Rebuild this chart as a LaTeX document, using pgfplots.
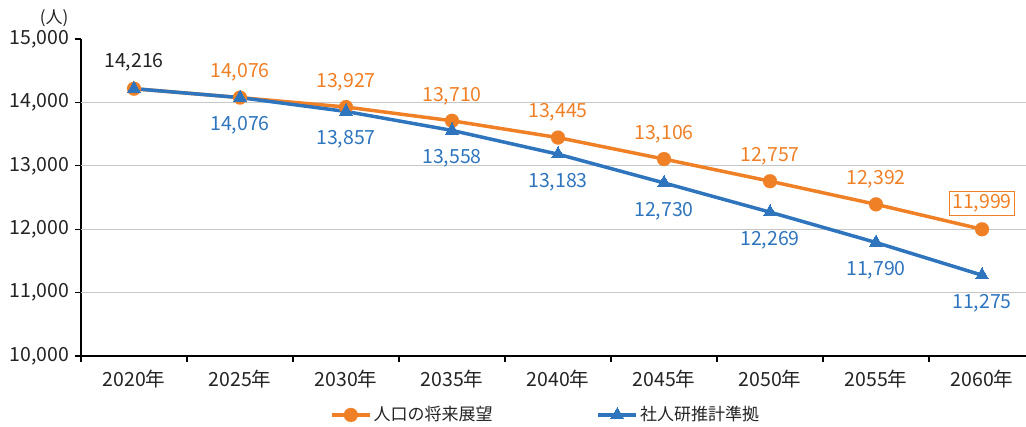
\documentclass[border=0pt]{standalone}
\usepackage{fontspec}
\setmainfont{Noto Sans CJK JP}
\usepackage{pgfplots}
\pgfplotsset{compat=1.18}
\definecolor{orng}{RGB}{240,128,38}
\definecolor{blu}{RGB}{46,117,190}
\definecolor{txt}{RGB}{35,35,35}
\newcommand{\lf}{\fontsize{19.5}{22}\selectfont}
\begin{document}
\lf
\begin{tikzpicture}
\path[use as bounding box] (0,0) rectangle (1026pt,427pt);
\begin{axis}[
  at={(81pt,71pt)}, anchor=south west,
  scale only axis, width=954pt, height=317pt,
  xmin=-0.5, xmax=8.5, ymin=10000, ymax=15000,
  axis x line*=bottom, axis y line*=left,
  axis line style={-, black, line width=1.2pt},
  xtick={-0.5,0.5,...,8.5},
  x tick label as interval,
  xticklabels={2020年,2025年,2030年,2035年,2040年,2045年,2050年,2055年,2060年},
  ytick={10000,11000,...,15000},
  extra y ticks={11000,12000,13000,14000},
  extra y tick labels={},
  extra y tick style={grid=major, major tick length=0pt},
  grid style={line width=0.8pt, black!22},
  tick align=outside, major tick length=6pt,
  tick style={black, line width=1.2pt},
  scaled y ticks=false,
  /pgf/number format/assume math mode=true,
  yticklabel style={/pgf/number format/1000 sep={,}, text=txt, font=\lf, xshift=1pt},
  xticklabel style={text=txt, font=\lf, yshift=-1pt},
  legend style={at={(0.487,-0.186)}, anchor=center, draw=none, fill=none,
    legend columns=2, font=\fontsize{17}{20}\selectfont,
    /tikz/every even column/.append style={column sep=102pt},
    text=txt},
  legend image code/.code={\draw[mark repeat=2,mark phase=2] plot coordinates {(0pt,0pt) (19pt,0pt) (38pt,0pt)};},
]
\addplot[orng, line width=3.5pt, mark=*, mark size=7pt, mark options={solid, fill=orng, draw=orng, line width=0.1pt}]
  coordinates {(0,14216) (1,14076) (2,13927) (3,13710) (4,13445) (5,13106) (6,12757) (7,12392) (8,11999)};
\addlegendentry{人口の将来展望}
\addplot[blu, line width=3.5pt, mark=triangle*, mark size=7.5pt, mark options={solid, fill=blu, line width=0pt}]
  coordinates {(0,14216) (1,14076) (2,13857) (3,13558) (4,13183) (5,12730) (6,12269) (7,11790) (8,11275)};
\addlegendentry{社人研推計準拠}
% labels
\addplot[forget plot, draw=none, mark=none, nodes near coords, point meta=explicit symbolic,
  every node near coord/.style={anchor=center, yshift=25pt, text=orng, font=\lf}]
  coordinates {(1,14076)[14,076] (2,13927)[13,927] (3,13710)[13,710] (4,13445)[13,445] (5,13106)[13,106] (6,12757)[12,757] (7,12392)[12,392]};
\addplot[forget plot, draw=none, mark=none, nodes near coords, point meta=explicit symbolic,
  every node near coord/.style={anchor=center, yshift=26pt, draw=orng, line width=0.8pt, inner sep=3pt, text=orng, font=\lf}]
  coordinates {(8,11999)[11,999]};
\addplot[forget plot, draw=none, mark=none, nodes near coords, point meta=explicit symbolic,
  every node near coord/.style={anchor=center, yshift=26pt, text=txt, font=\lf}]
  coordinates {(0,14216)[14,216]};
\addplot[forget plot, draw=none, mark=none, nodes near coords, point meta=explicit symbolic,
  every node near coord/.style={anchor=center, yshift=-28pt, text=blu, font=\lf}]
  coordinates {(1,14076)[14,076] (2,13857)[13,857] (3,13558)[13,558] (4,13183)[13,183] (5,12730)[12,730] (6,12269)[12,269] (7,11790)[11,790] (8,11275)[11,275]};
\end{axis}
\node[text=txt, font=\fontsize{17}{20}\selectfont] at (54pt,409pt) {(人)};
\end{tikzpicture}
\end{document}
